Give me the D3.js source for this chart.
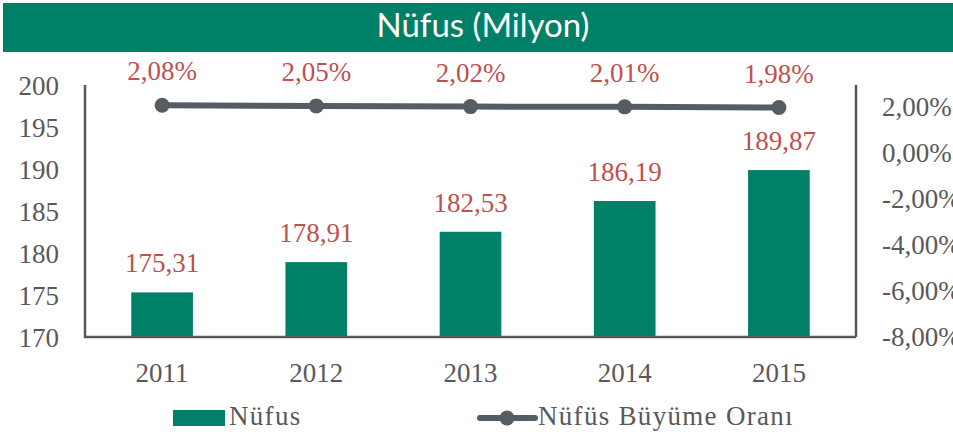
<!DOCTYPE html>
<html>
<head>
<meta charset="utf-8">
<script src="https://cdn.jsdelivr.net/npm/d3@7"></script>
<style>
  body { margin: 0; background: #fff; }
  svg text { font-family: "Liberation Serif", serif; }
</style>
</head>
<body>
<svg id="chart" width="953" height="435"></svg>
<script>
// chart data
const years = ['2011', '2012', '2013', '2014', '2015'];
const population = [175.31, 178.91, 182.53, 186.19, 189.87];
const growthRate = [2.08, 2.05, 2.02, 2.01, 1.98];
const leftTicks = [170, 175, 180, 185, 190, 195, 200];
const rightTicks = [-8, -6, -4, -2, 0, 2];

const GREEN = '#008066';
const RED = '#C0504D';
const LINE = '#555C64';
const AXIS = '#595959';
const FONT_SIZE = '27px';

const svg = d3.select('#chart');
const plot = {left: 85, right: 856, top: 85, bottom: 337};

const fmt = (v, digits) => v.toFixed(digits).replace('.', ',');

// title bar
svg.append('rect')
  .attr('x', 3).attr('y', 3)
  .attr('width', 950).attr('height', 49)
  .attr('fill', GREEN);
svg.append('text')
  .attr('x', 483).attr('y', 37)
  .attr('text-anchor', 'middle')
  .attr('fill', '#fff')
  .style('font-family', 'Lato, "Open Sans", sans-serif')
  .style('font-size', '33px')
  .text('Nüfus (Milyon)');

// scales
const x = d3.scaleBand()
  .domain(years)
  .range([plot.left, plot.right])
  .paddingInner(0.6)
  .paddingOuter(0.3);
const yLeft = d3.scaleLinear().domain([170, 200]).range([plot.bottom, plot.top]);
const yRight = d3.scaleLinear().domain([-8, 2.96]).range([plot.bottom, plot.top]);

// bars
svg.selectAll('.bar')
  .data(population)
  .enter()
  .append('rect')
  .attr('class', 'bar')
  .attr('x', (d, i) => x(years[i]))
  .attr('y', d => yLeft(d))
  .attr('width', x.bandwidth())
  .attr('height', d => plot.bottom - yLeft(d))
  .attr('fill', GREEN);

// axes (lines only, no ticks)
const leftAxis = d3.axisLeft(yLeft).tickValues(leftTicks).tickSize(0).tickPadding(26);
const gl = svg.append('g').attr('transform', `translate(${plot.left},0)`).call(leftAxis);
const rightAxis = d3.axisRight(yRight).tickValues(rightTicks).tickSize(0).tickPadding(26)
  .tickFormat(d => fmt(d, 2) + '%');
const gr = svg.append('g').attr('transform', `translate(${plot.right},0)`).call(rightAxis);
const bottomAxis = d3.axisBottom(x).tickSize(0);
const gb = svg.append('g').attr('transform', `translate(0,${plot.bottom})`).call(bottomAxis);

[gl, gr, gb].forEach(g => {
  g.select('.domain').attr('stroke', AXIS).attr('stroke-width', 2.5);
  g.selectAll('text')
    .attr('fill', AXIS)
    .style('font-family', '"Liberation Serif", serif')
    .style('font-size', FONT_SIZE);
});
gl.select('.domain').attr('d', `M0,${plot.top}V${plot.bottom}H${plot.right - plot.left}`);
gb.select('.domain').remove();
gr.select('.domain').attr('d', `M0,${plot.top}V${plot.bottom}`);
gl.selectAll('text').attr('x', -26).attr('dy', '0.35em');
gb.selectAll('text').attr('y', 45).attr('dy', 0);

// growth line
const cx = (d, i) => x(years[i]) + x.bandwidth() / 2;
const line = d3.line().x(cx).y(d => yRight(d));
svg.append('path')
  .datum(growthRate)
  .attr('d', line)
  .attr('fill', 'none')
  .attr('stroke', LINE)
  .attr('stroke-width', 6);
svg.selectAll('.pt')
  .data(growthRate)
  .enter()
  .append('circle')
  .attr('cx', cx)
  .attr('cy', d => yRight(d))
  .attr('r', 7.5)
  .attr('fill', LINE);

// data labels
svg.selectAll('.bar-label')
  .data(population)
  .enter()
  .append('text')
  .attr('x', cx)
  .attr('y', d => yLeft(d) - 20)
  .attr('text-anchor', 'middle')
  .attr('fill', RED)
  .style('font-size', FONT_SIZE)
  .text(d => fmt(d, 2));
svg.selectAll('.rate-label')
  .data(growthRate)
  .enter()
  .append('text')
  .attr('x', cx)
  .attr('y', d => yRight(d) - 25)
  .attr('text-anchor', 'middle')
  .attr('fill', RED)
  .style('font-size', FONT_SIZE)
  .text(d => fmt(d, 2) + '%');

// legend
const legend = svg.append('g');
legend.append('rect')
  .attr('x', 173).attr('y', 410)
  .attr('width', 52).attr('height', 16)
  .attr('fill', GREEN);
legend.append('text')
  .attr('x', 229).attr('y', 425)
  .attr('fill', AXIS)
  .style('font-size', FONT_SIZE)
  .style('letter-spacing', '1.3px')
  .text('Nüfus');
legend.append('line')
  .attr('x1', 480).attr('x2', 535)
  .attr('y1', 418).attr('y2', 418)
  .attr('stroke', LINE).attr('stroke-width', 6)
  .attr('stroke-linecap', 'round');
legend.append('circle')
  .attr('cx', 507).attr('cy', 418).attr('r', 7.5)
  .attr('fill', LINE);
legend.append('text')
  .attr('x', 538).attr('y', 425)
  .attr('fill', AXIS)
  .style('font-size', FONT_SIZE)
  .style('letter-spacing', '1.3px')
  .text('Nüfüs Büyüme Oranı');
</script>
</body>
</html>
